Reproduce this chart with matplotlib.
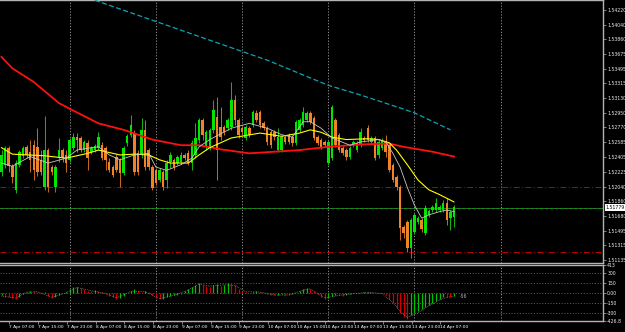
import matplotlib.pyplot as plt
import numpy as np

# H1 candles, 7 Apr 04:00 .. 14 Apr 10:00 (weekend skipped)
opens = [1.5222, 1.5231, 1.5252, 1.5229, 1.5200, 1.5231, 1.5242, 1.5253, 1.5247, 1.5255,
         1.5253, 1.5237, 1.5203, 1.5249, 1.5228, 1.5203, 1.5239, 1.5249, 1.5243, 1.5237,
         1.5252, 1.5265, 1.5264, 1.5249, 1.5258, 1.5247, 1.5249, 1.5252, 1.5255, 1.5252,
         1.5234, 1.5228, 1.5241, 1.5237, 1.5221, 1.5258, 1.5268, 1.5270, 1.5245, 1.5243,
         1.5274, 1.5249, 1.5228, 1.5224, 1.5212, 1.5222, 1.5212, 1.5234, 1.5237, 1.5233,
         1.5234, 1.5243, 1.5245, 1.5233, 1.5243, 1.5262, 1.5286, 1.5253, 1.5253, 1.5274,
         1.5290, 1.5278, 1.5278, 1.5276, 1.5278, 1.5311, 1.5286, 1.5276, 1.5264, 1.5276,
         1.5280, 1.5295, 1.5296, 1.5282, 1.5276, 1.5271, 1.5271, 1.5249, 1.5249, 1.5265,
         1.5268, 1.5265, 1.5258, 1.5274, 1.5280, 1.5286, 1.5295, 1.5289, 1.5265, 1.5262,
         1.5259, 1.5233, 1.5239, 1.5286, 1.5268, 1.5252, 1.5249, 1.5241, 1.5255, 1.5249,
         1.5255, 1.5264, 1.5276, 1.5259, 1.5264, 1.5243, 1.5252, 1.5259, 1.5255, 1.5231,
         1.5216, 1.5203, 1.5154, 1.5160, 1.5128, 1.5148, 1.5160, 1.5163, 1.5147, 1.5169,
         1.5175, 1.5175, 1.5175, 1.5175, 1.5184, 1.5165, 1.5166]
closes = [1.5243, 1.5252, 1.5229, 1.5216, 1.5233, 1.5247, 1.5252, 1.5243, 1.5237, 1.5224,
          1.5222, 1.5222, 1.5249, 1.5203, 1.5222, 1.5228, 1.5249, 1.5239, 1.5233, 1.5262,
          1.5265, 1.5262, 1.5249, 1.5259, 1.5239, 1.5252, 1.5254, 1.5265, 1.5239, 1.5237,
          1.5224, 1.5218, 1.5224, 1.5221, 1.5252, 1.5266, 1.5280, 1.5222, 1.5222, 1.5274,
          1.5228, 1.5228, 1.5202, 1.5208, 1.5224, 1.5203, 1.5233, 1.5243, 1.5228, 1.5241,
          1.5243, 1.5239, 1.5233, 1.5258, 1.5264, 1.5286, 1.5268, 1.5271, 1.5274, 1.5299,
          1.5249, 1.5265, 1.5271, 1.5286, 1.5311, 1.5286, 1.5268, 1.5271, 1.5278, 1.5268,
          1.5296, 1.5286, 1.5280, 1.5276, 1.5259, 1.5255, 1.5265, 1.5265, 1.5265, 1.5259,
          1.5259, 1.5258, 1.5284, 1.5286, 1.5296, 1.5295, 1.5284, 1.5264, 1.5258, 1.5253,
          1.5255, 1.5259, 1.5302, 1.5255, 1.5249, 1.5245, 1.5241, 1.5252, 1.5259, 1.5258,
          1.5271, 1.5262, 1.5262, 1.5264, 1.5239, 1.5259, 1.5262, 1.5247, 1.5224, 1.5212,
          1.5203, 1.5153, 1.5147, 1.5128, 1.5163, 1.5169, 1.5165, 1.5152, 1.5178, 1.5174,
          1.5179, 1.5184, 1.5179, 1.5184, 1.5163, 1.5173, 1.5179]
highs = [1.5249, 1.5254, 1.5254, 1.5232, 1.5237, 1.5249, 1.5254, 1.5255, 1.5262, 1.5262,
         1.5276, 1.5249, 1.5291, 1.5252, 1.5231, 1.5231, 1.5264, 1.5252, 1.5249, 1.5264,
         1.5270, 1.5270, 1.5266, 1.5262, 1.5262, 1.5254, 1.5257, 1.5271, 1.5259, 1.5254,
         1.5239, 1.5231, 1.5244, 1.5239, 1.5254, 1.5269, 1.5292, 1.5274, 1.5249, 1.5289,
         1.5286, 1.5252, 1.5231, 1.5227, 1.5227, 1.5224, 1.5237, 1.5247, 1.5239, 1.5243,
         1.5247, 1.5245, 1.5249, 1.5262, 1.5282, 1.5289, 1.5289, 1.5274, 1.5276, 1.5311,
         1.5315, 1.5302, 1.5280, 1.5289, 1.5333, 1.5317, 1.5289, 1.5279, 1.5280, 1.5279,
         1.5299, 1.5299, 1.5299, 1.5285, 1.5279, 1.5274, 1.5274, 1.5276, 1.5268, 1.5268,
         1.5270, 1.5268, 1.5286, 1.5289, 1.5302, 1.5297, 1.5297, 1.5291, 1.5268, 1.5264,
         1.5262, 1.5262, 1.5305, 1.5289, 1.5270, 1.5254, 1.5252, 1.5254, 1.5262, 1.5260,
         1.5276, 1.5266, 1.5280, 1.5266, 1.5266, 1.5262, 1.5264, 1.5268, 1.5258, 1.5233,
         1.5218, 1.5206, 1.5157, 1.5163, 1.5165, 1.5171, 1.5168, 1.5165, 1.5181, 1.5176,
         1.5181, 1.5190, 1.5181, 1.5187, 1.5190, 1.5175, 1.5181]
lows = [1.5217, 1.5227, 1.5222, 1.5208, 1.5196, 1.5228, 1.5239, 1.5239, 1.5222, 1.5212,
        1.5217, 1.5218, 1.5200, 1.5197, 1.5218, 1.5197, 1.5234, 1.5234, 1.5222, 1.5234,
        1.5249, 1.5247, 1.5247, 1.5247, 1.5224, 1.5244, 1.5247, 1.5249, 1.5237, 1.5224,
        1.5222, 1.5216, 1.5222, 1.5203, 1.5218, 1.5254, 1.5265, 1.5218, 1.5218, 1.5239,
        1.5224, 1.5224, 1.5200, 1.5206, 1.5210, 1.5200, 1.5202, 1.5227, 1.5224, 1.5231,
        1.5232, 1.5237, 1.5231, 1.5224, 1.5239, 1.5258, 1.5262, 1.5249, 1.5249, 1.5270,
        1.5212, 1.5262, 1.5268, 1.5274, 1.5274, 1.5280, 1.5264, 1.5269, 1.5262, 1.5265,
        1.5278, 1.5284, 1.5276, 1.5274, 1.5255, 1.5252, 1.5262, 1.5247, 1.5247, 1.5257,
        1.5257, 1.5254, 1.5255, 1.5271, 1.5278, 1.5284, 1.5281, 1.5262, 1.5255, 1.5250,
        1.5253, 1.5231, 1.5237, 1.5253, 1.5247, 1.5243, 1.5237, 1.5238, 1.5253, 1.5247,
        1.5253, 1.5259, 1.5259, 1.5257, 1.5237, 1.5239, 1.5249, 1.5241, 1.5222, 1.5210,
        1.5200, 1.5138, 1.5141, 1.5123, 1.5116, 1.5145, 1.5158, 1.5148, 1.5144, 1.5166,
        1.5173, 1.5173, 1.5173, 1.5173, 1.5157, 1.5150, 1.5154]

# moving averages (bar index, price)
red_x = [0, 3, 9, 16, 19, 27, 34, 42, 50, 55, 61, 69, 83, 91, 100, 108, 112, 116, 120, 126]
red_y = [1.5364, 1.5350, 1.5333, 1.5307, 1.5300, 1.5282, 1.5274, 1.5262, 1.5255, 1.5255,
         1.5250, 1.5245, 1.5249, 1.5253, 1.5256, 1.5257, 1.5253, 1.5250, 1.5247, 1.5241]
cyan_x = [26, 50, 74, 91, 100, 111, 115, 125]
cyan_y = [1.5434, 1.5397, 1.5360, 1.5329, 1.5317, 1.5301, 1.5295, 1.5274]
yel_x = [0, 3, 12, 18, 24, 27, 33, 37, 41, 44, 47, 52, 55, 58, 64, 72, 78, 83, 86, 89,
         92, 96, 102, 105, 108, 110, 113, 116, 119, 122, 126]
yel_y = [1.5252, 1.5244, 1.5242, 1.5239, 1.5245, 1.5249, 1.5243, 1.5244, 1.5243, 1.5237,
         1.5233, 1.5233, 1.5243, 1.5252, 1.5264, 1.5270, 1.5266, 1.5270, 1.5274, 1.5271,
         1.5265, 1.5262, 1.5263, 1.5262, 1.5258, 1.5249, 1.5231, 1.5212, 1.5200, 1.5194, 1.5185]
gray_x = [0, 3, 8, 13, 18, 21, 25, 27, 30, 33, 37, 41, 43, 46, 50, 53, 55, 58, 64, 69,
          74, 78, 81, 84, 86, 89, 92, 97, 100, 105, 107, 109, 111, 113, 115, 117, 119, 122, 124, 126]
gray_y = [1.5233, 1.5229, 1.5241, 1.5233, 1.5239, 1.5249, 1.5252, 1.5253, 1.5243, 1.5237,
          1.5243, 1.5245, 1.5228, 1.5224, 1.5231, 1.5239, 1.5253, 1.5262, 1.5276, 1.5282,
          1.5276, 1.5268, 1.5265, 1.5284, 1.5284, 1.5276, 1.5264, 1.5255, 1.5259, 1.5262,
          1.5259, 1.5245, 1.5228, 1.5203, 1.5181, 1.5165, 1.5169, 1.5173, 1.5175, 1.5173]

levels_red = [1.5203, 1.5123]
bid = 1.51779

price_ticks = [1.54220, 1.54040, 1.53860, 1.53675, 1.53495, 1.53315, 1.53130, 1.52950,
               1.52770, 1.52585, 1.52405, 1.52225, 1.52040, 1.51860, 1.51680, 1.51495,
               1.51315, 1.51135]

# oscillator histogram
osc = [-40, -60, -70, -85, -90, -70, -20, 15, 30, 25,
       10, -5, 5, -50, -85, -70, -40, -10, 10, 50,
       80, 90, 75, 60, 30, 20, 35, 25, 5, -15,
       -45, -70, -90, -85, -55, -10, 30, 50, 20, 10,
       25, 5, -40, -80, -100, -90, -70, -55, -40, -30,
       -15, 20, 50, 80, 110, 150, 120, 100, 90, 110,
       130, 100, 120, 150, 140, 110, 60, 20, 10, -5,
       15, 20, 5, -10, -25, -35, -40, -30, -20, -35,
       -40, -25, -10, 20, 50, 75, 60, 30, -20, -60,
       -90, -80, -50, -30, -40, -50, -35, -20, -10, -5,
       0, 5, 10, 5, 0, -10, -5, -30, -90, -160,
       -230, -310, -360, -400, -330, -310, -280, -250, -215, -185,
       -150, -120, -90, -60, -62, -65, -56]
sig_x = [0, 4, 7, 10, 14, 18, 21, 25, 29, 32, 36, 40, 44, 48, 52, 55, 58, 62, 65, 68,
         72, 76, 80, 84, 86, 90, 94, 98, 102, 106, 109, 111, 113, 116, 119, 122, 124, 126]
sig_y = [-50, -80, 10, 15, -70, 0, 80, 30, -10, -80, 20, 15, -90, -40, 40, 130, 100, 120,
         110, 15, 10, -35, -35, 40, 60, -80, -40, -15, 5, -10, -150, -280, -375, -300,
         -200, -110, -70, -56]
osc_ticks = [413, 300, 150, 0, -150, -300, -426.8]
osc_labels = ['413', '300', '150', '0.00', '-150', '-300', '-426.8']

time_ticks = [3, 11, 19, 27, 35, 43, 51, 59, 67, 75, 83, 91, 99, 107, 115, 123]
time_labels = ['7 Apr 07:00', '7 Apr 15:00', '7 Apr 23:00', '8 Apr 07:00', '8 Apr 15:00',
               '8 Apr 23:00', '9 Apr 07:00', '9 Apr 15:00', '9 Apr 23:00', '10 Apr 07:00',
               '10 Apr 15:00', '10 Apr 23:00', '13 Apr 07:00', '13 Apr 15:00',
               '13 Apr 23:00', '14 Apr 07:00']
grid_bars = [19, 43, 67, 91, 115, 139]

fg = '#b4b4b4'
txt = '#ececec'
fs = 3.3

fig = plt.figure(figsize=(6.25, 3.32), dpi=100, facecolor='black')
ax = fig.add_axes([0, 69 / 332, 603 / 625, 263 / 332], facecolor='black')
ax2 = fig.add_axes([0, 11 / 332, 603 / 625, 56 / 332], facecolor='black')

o = np.array(opens)
c = np.array(closes)
x = np.arange(len(c))
up = c >= o
body_col = np.where(up, '#00e600', '#f08228')
wick_col = np.where(up, '#14b014', '#c0661e')

ax.vlines(x, lows, highs, colors=wick_col, lw=0.75, zorder=2)
lo = np.minimum(o, c)
ht = np.maximum(np.abs(c - o), 0.00005)
ax.bar(x, ht, bottom=lo, width=0.7, color=body_col, lw=0, zorder=2)

ax.plot(cyan_x, cyan_y, color='#0aa6b4', lw=0.9, ls=(0, (4, 2)), zorder=3)
ax.plot(red_x, red_y, color='#ff1010', lw=1.3, zorder=3)
ax.plot(yel_x, yel_y, color='#ffff00', lw=0.8, zorder=4)
ax.plot(gray_x, gray_y, color='#c8c8c8', lw=0.6, zorder=4)

for lv in levels_red:
    ax.axhline(lv, color='#c00000', lw=0.7, ls=(0, (6, 2.5, 1, 2.5)), zorder=1)
ax.axhline(bid, color='#5a5a5a', lw=0.6, zorder=1)
ax.axhline(bid, color='#00a000', lw=0.7, ls=(0, (3, 2)), zorder=1)

for b in grid_bars:
    ax.axvline(b, color='#a0a0a0', lw=0.6, ls=(0, (1.5, 2)), zorder=0)
    ax2.axvline(b, color='#a0a0a0', lw=0.6, ls=(0, (1.5, 2)), zorder=0)

xl = (-0.42, 167.5)
ax.set_xlim(xl)
ax.set_ylim(1.51096, 1.54343)
ax.set_xticks([])
ax.yaxis.tick_right()
ax.set_yticks(price_ticks)
ax.set_yticklabels(['%.5f' % p for p in price_ticks])
ax.tick_params(axis='y', colors=fg, labelcolor=txt, labelsize=fs, length=2, width=0.5, pad=1)
ax.annotate('%.5f' % bid, xy=(1.0, bid), xycoords=('axes fraction', 'data'),
            xytext=(2, 0), textcoords='offset points', fontsize=fs, color='black',
            ha='left', va='center',
            bbox=dict(boxstyle='square,pad=0.15', fc='white', ec='white', lw=0))

# oscillator pane
ov = np.array(osc)
prev = np.concatenate([[ov[0]], ov[:-1]])
bar_col = np.where(ov >= prev, '#00c000', '#d00000')
ax2.vlines(x, 0, ov, colors=bar_col, lw=0.9, zorder=2)
ax2.plot(sig_x, sig_y, color='#a0a0a0', lw=0.5, ls=(0, (1, 1.5)), zorder=3)
for lv in [300, 150, 0, -150, -300]:
    ax2.axhline(lv, color='#808080', lw=0.5, ls=(0, (1.5, 2.5)), zorder=1)
ax2.text(127.5, osc[-1], str(osc[-1]), color='#b0b0b0', fontsize=fs, va='center', ha='left')
ax2.set_xlim(xl)
ax2.set_ylim(-428, 420)
ax2.yaxis.tick_right()
ax2.set_yticks(osc_ticks)
ax2.set_yticklabels(osc_labels)
ax2.tick_params(axis='y', colors=fg, labelcolor=txt, labelsize=fs, length=2, width=0.5, pad=1)
ax2.set_xticks([t - 0.8 for t in time_ticks])
ax2.set_xticklabels(time_labels, ha='left')
ax2.tick_params(axis='x', colors=fg, labelcolor='white', labelsize=3.15, length=2, width=0.5, pad=1)

for a in (ax, ax2):
    a.spines['left'].set_visible(False)
    for s in ('top', 'right', 'bottom'):
        a.spines[s].set_color(fg)
        a.spines[s].set_linewidth(1.0)

fig.savefig('out.png', dpi=100, facecolor='black')
